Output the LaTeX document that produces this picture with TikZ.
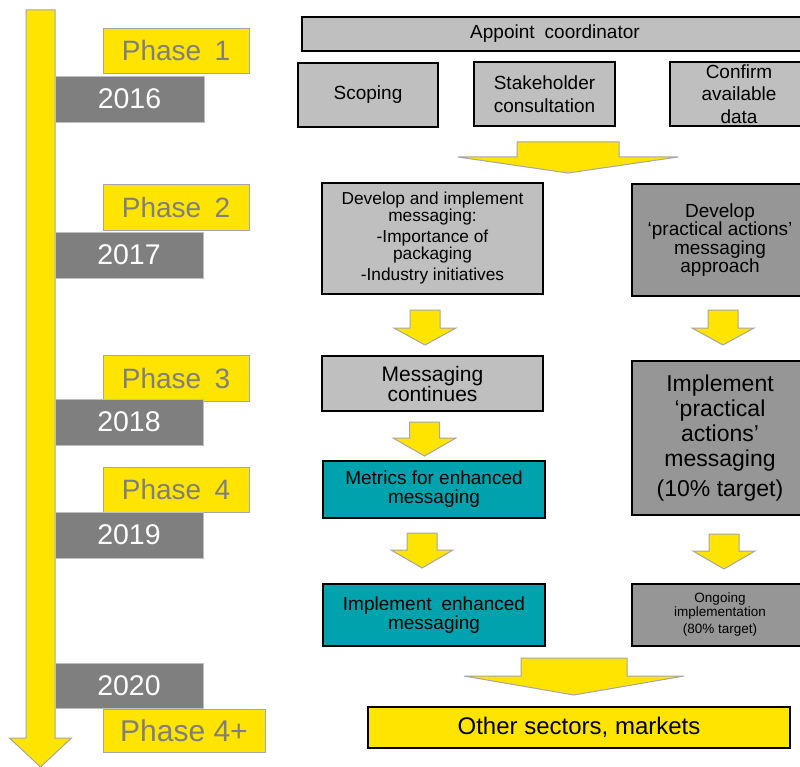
\documentclass[tikz,border=0pt]{standalone}
\usepackage{fontspec}
\setmainfont{Liberation Sans}
\definecolor{ylw}{HTML}{FFE400}
\definecolor{lgray}{HTML}{BFBFBF}
\definecolor{dgray}{HTML}{969696}
\definecolor{ygray}{HTML}{7F7F7F}
\definecolor{teal2}{HTML}{00A3AD}
\definecolor{edgegray}{HTML}{A6A6A6}
\tikzset{
  box/.style={draw=black, line width=1.3pt, inner sep=0pt, align=center, text=black},
  lbox/.style={box, fill=lgray},
  dbox/.style={box, fill=dgray},
  tbox/.style={box, fill=teal2},
  ybox/.style={box, fill=ylw},
  phasebox/.style={fill=ylw, draw=edgegray, line width=0.9pt, inner sep=0pt, text=ygray, font=\fontsize{28}{30}\selectfont},
  yearbox/.style={fill=ygray, draw=lgray, line width=0.6pt, inner sep=0pt, text=white, font=\fontsize{28.5}{30}\selectfont},
  blockarrow/.style={fill=ylw, draw=edgegray, line width=1pt, line join=miter},
}
% cx, shaft half width, top, shaft bottom, head half width, tip
\newcommand{\blockdown}[6]{%
  \draw[blockarrow] ({#1-#2},#3) -- ({#1+#2},#3) -- ({#1+#2},#4) -- ({#1+#5},#4)
    -- (#1,#6) -- ({#1-#5},#4) -- ({#1-#2},#4) -- cycle;}
\begin{document}
\begin{tikzpicture}[x=1pt,y=-1pt]
\useasboundingbox (0,0) rectangle (800,767);
\fill[white] (0,0) rectangle (800,767);

% timeline arrow
\blockdown{40.5}{14.5}{10}{738}{31}{767}

% phases and years
\node[phasebox, minimum width=146, minimum height=45] (p1) at (176,50.5) {Phase\hspace{0.2em} 1};
\node[yearbox, minimum width=149, minimum height=46] (y1) at (129.5,99) {2016};
\node[phasebox, minimum width=146, minimum height=46] (p2) at (176,207) {Phase\hspace{0.2em} 2};
\node[yearbox, minimum width=148, minimum height=46] (y2) at (129,255) {2017};
\node[phasebox, minimum width=146, minimum height=46] (p3) at (176,378) {Phase\hspace{0.2em} 3};
\node[yearbox, minimum width=148, minimum height=46] (y3) at (129,422) {2018};
\node[phasebox, minimum width=146, minimum height=45] (p4) at (176,489.5) {Phase\hspace{0.2em} 4};
\node[yearbox, minimum width=148, minimum height=46] (y4) at (129,535) {2019};
\node[yearbox, minimum width=148, minimum height=45] (y5) at (129,685.5) {2020};
\node[phasebox, minimum width=162, minimum height=43, font=\fontsize{30}{32}\selectfont] (p5) at (184,730.5) {Phase 4+};

% phase 1 boxes
\node[lbox, minimum width=506, minimum height=34, font=\fontsize{19}{22}\selectfont] (coord) at (555,34) {Appoint\hspace{0.25em} coordinator};
\node[lbox, minimum width=140, minimum height=64, font=\fontsize{19}{22}\selectfont] (scope) at (368,95) {Scoping};
\node[lbox, minimum width=141, minimum height=64, font=\fontsize{19}{23}\selectfont] (stake) at (544.5,94) {Stakeholder\\consultation};
\node[lbox, minimum width=138, minimum height=64,
  label={[align=center, font=\fontsize{19}{22.5}\selectfont, text=black, inner sep=0pt]center:{Confirm\\available\\data}}] (conf) at (739,94) {};

\blockdown{568}{51}{142}{157}{110}{173}

% phase 2
\node[lbox, minimum width=221, minimum height=111, font=\fontsize{17.3}{17}\selectfont] (dev) at (432.5,238.5)
  {Develop and implement\\messaging:\\[4pt]-Importance of\\packaging\\[4pt]-Industry initiatives};
\node[dbox, minimum width=176, minimum height=112, font=\fontsize{19}{18.6}\selectfont] (pa) at (720,240)
  {Develop\\‘practical actions’\\messaging\\approach};

\blockdown{425}{15}{310}{328}{31}{345}
\blockdown{723}{15}{310}{328}{31}{345}

% phase 3
\node[lbox, minimum width=221, minimum height=55, font=\fontsize{21}{20}\selectfont] (cont) at (432.5,383.5) {Messaging\\continues};
\node[dbox, minimum width=176, minimum height=154, font=\fontsize{23}{25}\selectfont] (impl) at (720,438)
  {Implement\\‘practical\\actions’\\messaging\\[5pt](10\% target)};

\blockdown{424.5}{15}{422}{438}{31.5}{456}

% phase 4
\node[tbox, minimum width=222, minimum height=57, font=\fontsize{19}{19}\selectfont] (metr) at (434,489.5) {Metrics for enhanced\\messaging};

\blockdown{422}{15}{533}{550}{31}{568}
\blockdown{724}{15}{534}{551}{31}{569}

\node[tbox, minimum width=222, minimum height=62, font=\fontsize{19}{19}\selectfont] (enh) at (434,615) {Implement\hspace{0.25em} enhanced\\messaging};
\node[dbox, minimum width=176, minimum height=62, font=\fontsize{13.5}{14}\selectfont] (ong) at (720,615)
  {Ongoing\\implementation\\[3pt](80\% target)};

\blockdown{574}{53}{658}{676}{110}{695}

\node[ybox, minimum width=422, minimum height=41, font=\fontsize{24}{26}\selectfont] (other) at (579,727.5) {Other sectors, markets};
\end{tikzpicture}
\end{document}
